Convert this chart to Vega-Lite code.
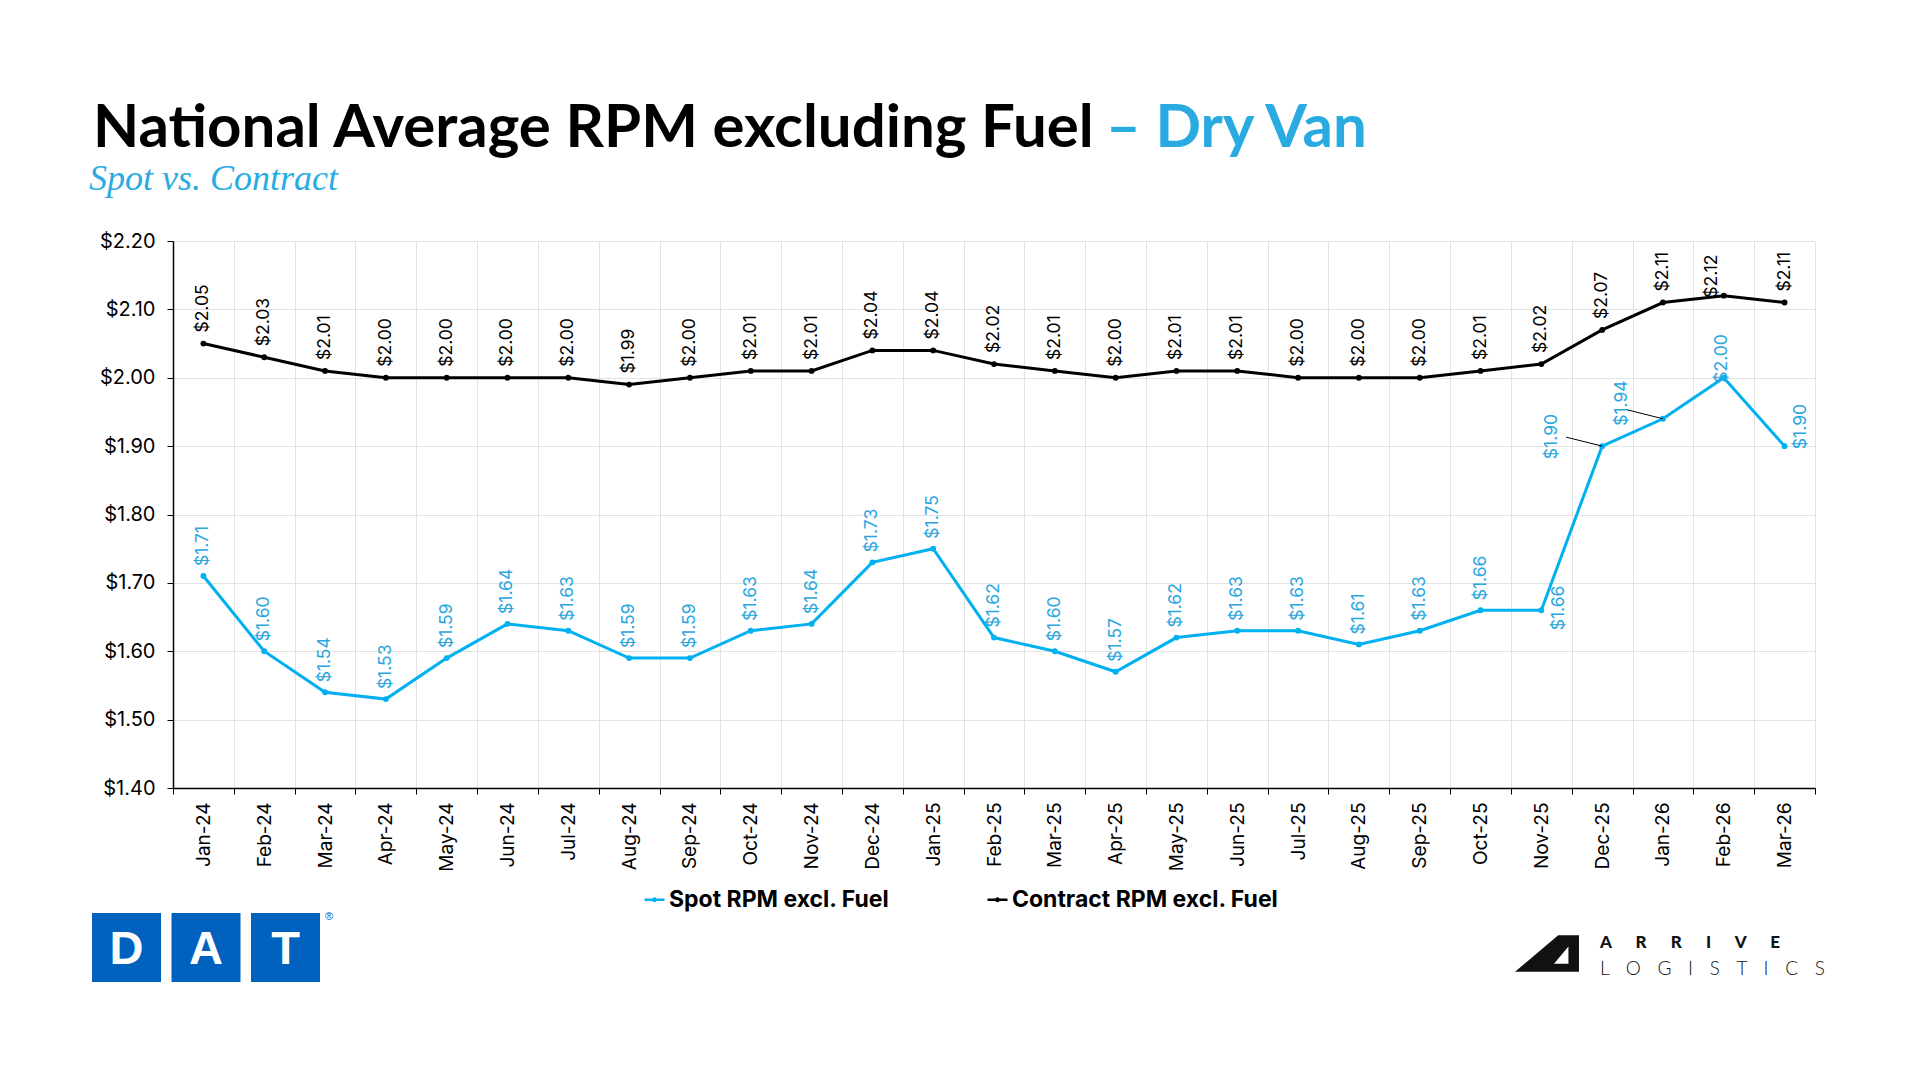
{
  "$schema": "https://vega.github.io/schema/vega-lite/v6.json",
  "background": "white",
  "padding": {"left": 89, "top": 0, "right": 0, "bottom": 0},
  "bounds": "flush",
  "spacing": 0,
  "config": {
    "view": {"stroke": null},
    "font": "Inter",
    "scale": {"pointPadding": 0}
  },
  "resolve": {"scale": {"color": "independent", "x": "independent", "y": "independent"}},
  "vconcat": [
    {
      "width": 1642,
      "height": 241,
      "layer": [
        {
          "data": {"values": [{"part": "National Average RPM excluding Fuel"}]},
          "mark": {"type": "text", "align": "left", "baseline": "alphabetic", "font": "Lato", "fontSize": 60, "fontWeight": "bold", "color": "#000000"},
          "encoding": {
            "text": {"field": "part"},
            "x": {"field": "part", "type": "nominal", "axis": null, "scale": {"type": "point", "range": [-80, -80]}},
            "y": {"field": "part", "type": "nominal", "axis": null, "scale": {"type": "point", "range": [147, 147]}}
          }
        },
        {
          "data": {"values": [{"part": "– Dry Van"}]},
          "mark": {"type": "text", "align": "left", "baseline": "alphabetic", "font": "Lato", "fontSize": 60, "fontWeight": "bold", "color": "#29ABE2"},
          "encoding": {
            "text": {"field": "part"},
            "x": {"field": "part", "type": "nominal", "axis": null, "scale": {"type": "point", "range": [933, 933]}},
            "y": {"field": "part", "type": "nominal", "axis": null, "scale": {"type": "point", "range": [147, 147]}}
          }
        },
        {
          "data": {"values": [{"sub": "Spot vs. Contract"}]},
          "mark": {"type": "text", "align": "left", "baseline": "alphabetic", "font": "Liberation Serif", "fontSize": 36, "fontStyle": "italic", "color": "#29ABE2"},
          "encoding": {
            "text": {"field": "sub"},
            "x": {"field": "sub", "type": "nominal", "axis": null, "scale": {"type": "point", "range": [-84, -84]}},
            "y": {"field": "sub", "type": "nominal", "axis": null, "scale": {"type": "point", "range": [190, 190]}}
          }
        }
      ],
      "resolve": {"scale": {"x": "independent", "y": "independent"}}
    },
    {
      "width": 1642,
      "height": 547,
      "data": {"values": [
        {"month": "Jan-24", "spot": 1.71, "contract": 2.05},
        {"month": "Feb-24", "spot": 1.60, "contract": 2.03},
        {"month": "Mar-24", "spot": 1.54, "contract": 2.01},
        {"month": "Apr-24", "spot": 1.53, "contract": 2.00},
        {"month": "May-24", "spot": 1.59, "contract": 2.00},
        {"month": "Jun-24", "spot": 1.64, "contract": 2.00},
        {"month": "Jul-24", "spot": 1.63, "contract": 2.00},
        {"month": "Aug-24", "spot": 1.59, "contract": 1.99},
        {"month": "Sep-24", "spot": 1.59, "contract": 2.00},
        {"month": "Oct-24", "spot": 1.63, "contract": 2.01},
        {"month": "Nov-24", "spot": 1.64, "contract": 2.01},
        {"month": "Dec-24", "spot": 1.73, "contract": 2.04},
        {"month": "Jan-25", "spot": 1.75, "contract": 2.04},
        {"month": "Feb-25", "spot": 1.62, "contract": 2.02},
        {"month": "Mar-25", "spot": 1.60, "contract": 2.01},
        {"month": "Apr-25", "spot": 1.57, "contract": 2.00},
        {"month": "May-25", "spot": 1.62, "contract": 2.01},
        {"month": "Jun-25", "spot": 1.63, "contract": 2.01},
        {"month": "Jul-25", "spot": 1.63, "contract": 2.00},
        {"month": "Aug-25", "spot": 1.61, "contract": 2.00},
        {"month": "Sep-25", "spot": 1.63, "contract": 2.00},
        {"month": "Oct-25", "spot": 1.66, "contract": 2.01},
        {"month": "Nov-25", "spot": 1.66, "contract": 2.02},
        {"month": "Dec-25", "spot": 1.90, "contract": 2.07},
        {"month": "Jan-26", "spot": 1.94, "contract": 2.11},
        {"month": "Feb-26", "spot": 2.00, "contract": 2.12},
        {"month": "Mar-26", "spot": 1.90, "contract": 2.11}
      ]},
      "transform": [{"fold": ["spot", "contract"], "as": ["series", "value"]}],
      "encoding": {
        "x": {
          "field": "month", "type": "nominal", "sort": null, "title": null,
          "scale": {"type": "band", "paddingInner": 0, "paddingOuter": 0},
          "axis": {
            "tickBand": "extent", "labelAngle": -90, "labelFontSize": 19, "labelColor": "#000000",
            "labelPadding": 8, "tickSize": 6, "tickColor": "#000000", "domainColor": "#000000",
            "domainWidth": 1.5, "grid": true, "gridColor": "#e2e2e2", "labelFont": "Inter"
          }
        },
        "y": {
          "field": "value", "type": "quantitative", "title": null,
          "scale": {"domain": [1.4, 2.2], "zero": false, "nice": false},
          "axis": {
            "values": [1.4, 1.5, 1.6, 1.7, 1.8, 1.9, 2.0, 2.1, 2.2], "format": "$.2f",
            "labelFontSize": 20, "labelColor": "#000000", "labelPadding": 12, "tickSize": 6,
            "tickColor": "#000000", "domainColor": "#000000", "domainWidth": 1.5,
            "gridColor": "#e2e2e2", "labelFont": "Inter"
          }
        }
      },
      "layer": [
        {
          "mark": {"type": "line", "strokeWidth": 3, "point": {"filled": true, "size": 34}},
          "encoding": {
            "color": {
              "field": "series", "type": "nominal",
              "scale": {"domain": ["spot", "contract"], "range": ["#00B0F0", "#000000"]},
              "legend": {
                "orient": "none", "legendX": 470, "legendY": 647, "direction": "horizontal", "title": null,
                "labelExpr": "datum.value === 'spot' ? 'Spot RPM excl. Fuel' : 'Contract RPM excl. Fuel'",
                "labelFontSize": 23, "labelFontWeight": "bold", "labelFont": "Inter", "labelColor": "#000000",
                "labelLimit": 500,
                "symbolType": "M-1,0H1M0.12,0A0.12,0.12,0,1,1,-0.12,0A0.12,0.12,0,1,1,0.12,0",
                "symbolSize": 400, "symbolStrokeWidth": 2.5, "columnPadding": 92, "labelOffset": 3
              }
            }
          }
        },
        {
          "transform": [{"filter": "datum.series === 'spot' && (datum.month === 'Dec-25' || datum.month === 'Jan-26')"}],
          "mark": {"type": "rule", "color": "#000000", "strokeWidth": 1, "x2Offset": -36, "y2Offset": -9},
          "encoding": {
            "x": {"field": "month", "type": "nominal", "sort": null, "bandPosition": 0.5},
            "x2": {"field": "month", "bandPosition": 0.5},
            "y2": {"field": "value"}
          }
        },
        {
          "transform": [{"filter": "datum.series === 'contract' && datum.month !== 'Feb-26'"}],
          "mark": {"type": "text", "angle": -90, "align": "left", "baseline": "middle", "dx": 11, "fontSize": 17.5, "color": "#000000"},
          "encoding": {"text": {"field": "value", "type": "quantitative", "format": "$.2f"}}
        },
        {
          "transform": [{"filter": "datum.series === 'contract' && datum.month === 'Feb-26'"}],
          "mark": {"type": "text", "angle": -90, "align": "left", "baseline": "middle", "dx": -2, "dy": -12, "fontSize": 17.5, "color": "#000000"},
          "encoding": {"text": {"field": "value", "type": "quantitative", "format": "$.2f"}}
        },
        {
          "transform": [{"filter": "datum.series === 'spot' && indexof(['Nov-25','Dec-25','Jan-26','Feb-26','Mar-26'], datum.month) < 0"}],
          "mark": {"type": "text", "angle": -90, "align": "left", "baseline": "middle", "dx": 10, "fontSize": 17.5, "color": "#2AA6DF"},
          "encoding": {"text": {"field": "value", "type": "quantitative", "format": "$.2f"}}
        },
        {
          "transform": [{"filter": "datum.series === 'spot' && datum.month === 'Nov-25'"}],
          "mark": {"type": "text", "angle": -90, "align": "left", "baseline": "middle", "dx": -20, "dy": 18, "fontSize": 17.5, "color": "#2AA6DF"},
          "encoding": {"text": {"field": "value", "type": "quantitative", "format": "$.2f"}}
        },
        {
          "transform": [{"filter": "datum.series === 'spot' && datum.month === 'Dec-25'"}],
          "mark": {"type": "text", "angle": -90, "align": "left", "baseline": "middle", "dx": -13, "dy": -50, "fontSize": 17.5, "color": "#2AA6DF"},
          "encoding": {"text": {"field": "value", "type": "quantitative", "format": "$.2f"}}
        },
        {
          "transform": [{"filter": "datum.series === 'spot' && datum.month === 'Jan-26'"}],
          "mark": {"type": "text", "angle": -90, "align": "left", "baseline": "middle", "dx": -7, "dy": -41, "fontSize": 17.5, "color": "#2AA6DF"},
          "encoding": {"text": {"field": "value", "type": "quantitative", "format": "$.2f"}}
        },
        {
          "transform": [{"filter": "datum.series === 'spot' && datum.month === 'Feb-26'"}],
          "mark": {"type": "text", "angle": -90, "align": "left", "baseline": "middle", "dx": -5, "dy": -2, "fontSize": 17.5, "color": "#2AA6DF"},
          "encoding": {"text": {"field": "value", "type": "quantitative", "format": "$.2f"}}
        },
        {
          "transform": [{"filter": "datum.series === 'spot' && datum.month === 'Mar-26'"}],
          "mark": {"type": "text", "angle": -90, "align": "left", "baseline": "middle", "dx": -3, "dy": 16, "fontSize": 17.5, "color": "#2AA6DF"},
          "encoding": {"text": {"field": "value", "type": "quantitative", "format": "$.2f"}}
        }
      ]
    },
    {
      "width": 1642,
      "height": 240,
      "layer": [
        {
          "data": {"values": [{"ch": "D"}, {"ch": "A"}, {"ch": "T"}]},
          "mark": {"type": "square", "filled": true, "size": 4761, "color": "#0061BF", "opacity": 1},
          "encoding": {
            "x": {"field": "ch", "type": "nominal", "axis": null, "scale": {"type": "point", "padding": 0, "domain": ["D", "A", "T"], "range": [-46.5, 112.5]}},
            "y": {"field": "ch", "type": "nominal", "axis": null, "scale": {"type": "point", "range": [159.5, 159.5]}}
          }
        },
        {
          "data": {"values": [{"ch": "D"}, {"ch": "A"}, {"ch": "T"}]},
          "mark": {"type": "text", "font": "Liberation Sans", "fontWeight": "bold", "fontSize": 47, "color": "#ffffff", "baseline": "middle", "dy": 2},
          "encoding": {
            "text": {"field": "ch"},
            "x": {"field": "ch", "type": "nominal", "axis": null, "scale": {"type": "point", "padding": 0, "domain": ["D", "A", "T"], "range": [-46.5, 112.5]}},
            "y": {"field": "ch", "type": "nominal", "axis": null, "scale": {"type": "point", "range": [159.5, 159.5]}}
          }
        },
        {
          "data": {"values": [{"mark": "®"}]},
          "mark": {"type": "text", "font": "Liberation Sans", "fontSize": 11, "color": "#0061BF"},
          "encoding": {
            "text": {"field": "mark"},
            "x": {"field": "mark", "type": "nominal", "axis": null, "scale": {"type": "point", "range": [156, 156]}},
            "y": {"field": "mark", "type": "nominal", "axis": null, "scale": {"type": "point", "range": [129, 129]}}
          }
        },
        {
          "data": {"values": [{"logo": "Arrive"}]},
          "mark": {
            "type": "point", "filled": true, "size": 4096, "color": "#111111", "opacity": 1,
            "shape": "M-1,0.57L0.35,-0.57L1,-0.57L1,0.57ZM0.67,-0.22L0.22,0.32L0.67,0.32Z"
          },
          "encoding": {
            "x": {"field": "logo", "type": "nominal", "axis": null, "scale": {"type": "point", "range": [1374, 1374]}},
            "y": {"field": "logo", "type": "nominal", "axis": null, "scale": {"type": "point", "range": [165.5, 165.5]}}
          }
        },
        {
          "data": {"values": [
            {"word": "A\u00a0\u00a0\u00a0\u00a0\u00a0\u00a0R\u00a0\u00a0\u00a0\u00a0\u00a0\u00a0R\u00a0\u00a0\u00a0\u00a0\u00a0\u00a0I\u00a0\u00a0\u00a0\u00a0\u00a0\u00a0V\u00a0\u00a0\u00a0\u00a0\u00a0\u00a0E"}
          ]},
          "mark": {"type": "text", "align": "left", "baseline": "middle", "font": "Lato", "fontWeight": 900, "fontSize": 17, "color": "#111111"},
          "encoding": {
            "text": {"field": "word"},
            "x": {"field": "word", "type": "nominal", "axis": null, "scale": {"type": "point", "range": [1427, 1427]}},
            "y": {"field": "word", "type": "nominal", "axis": null, "scale": {"type": "point", "range": [154.5, 154.5]}}
          }
        },
        {
          "data": {"values": [
            {"word": "L\u00a0\u00a0\u00a0\u200aO\u00a0\u00a0\u00a0\u200aG\u00a0\u00a0\u00a0\u200aI\u00a0\u00a0\u00a0\u200aS\u00a0\u00a0\u00a0\u200aT\u00a0\u00a0\u00a0\u200aI\u00a0\u00a0\u00a0\u200aC\u00a0\u00a0\u00a0\u200aS"}
          ]},
          "mark": {"type": "text", "align": "left", "baseline": "middle", "font": "Lato", "fontWeight": 300, "fontSize": 19, "color": "#111111"},
          "encoding": {
            "text": {"field": "word"},
            "x": {"field": "word", "type": "nominal", "axis": null, "scale": {"type": "point", "range": [1427, 1427]}},
            "y": {"field": "word", "type": "nominal", "axis": null, "scale": {"type": "point", "range": [180.5, 180.5]}}
          }
        }
      ],
      "resolve": {"scale": {"x": "independent", "y": "independent"}}
    }
  ]
}
